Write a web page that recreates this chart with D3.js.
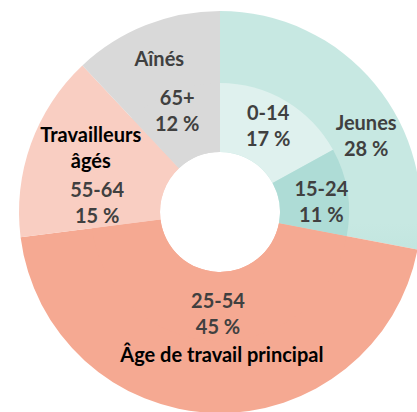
<!DOCTYPE html>
<meta charset="utf-8">
<style>
    body {
        margin: 0;
        background: #fff;
    }
    svg {
        display: block;
        font-family: Lato, "Open Sans", sans-serif;
        font-weight: 700;
    }
</style>
<script src="https://d3js.org/d3.v7.min.js"></script>
<div id="chart"></div>
<script>

    // inner ring: age groups
    var ageGroups = ["0-14", "15-24", "25-54", "55-64", "65+"];
    var agePct = [17, 11, 45, 15, 12];
    // which life stage each age group belongs to
    var ageStage = [0, 0, 1, 2, 3];

    // outer ring: life stages
    var stages = ["Jeunes", "Âge de travail principal", "Travailleurs âgés", "Aînés"];
    var stagePct = [28, 45, 15, 12];

    var width = 417, height = 412;
    var cx = 220, cy = 212;
    var rHole = 60, rInner = 129, rOuter = 201;

    var ageColor = ["#dff1ee", "#aedcd6", "#f5a992", "#f9cec2", "#d9d9d9"];
    var stageColor = ["url(#jeunesGrad)", "#f5a992", "#f9cec2", "#d9d9d9"];
    var stageText = ["#404040", "#000", "#000", "#404040"];

    // nudges from the arc centroid to where the labels sit
    var ageNudge = {"0-14": [0, -11], "15-24": [8, -1], "25-54": [1, 2], "55-64": [-34, 17], "65+": [-8, -19]};
    var stageNudge = {"Jeunes": [19, 23], "Âge de travail principal": [7, -15], "Travailleurs âgés": [26, -14], "Aînés": [0, 7]};
    var lineH = 26;

    var svg = d3.select("#chart")
        .append("svg")
        .attr("width", width)
        .attr("height", height);

    var grad = svg.append("defs").append("linearGradient")
        .attr("id", "jeunesGrad")
        .attr("gradientUnits", "userSpaceOnUse")
        .attr("x1", 0).attr("y1", cy - rOuter)
        .attr("x2", 0).attr("y2", cy + 40);
    grad.append("stop").attr("offset", "0%").attr("stop-color", "#c7e8e2");
    grad.append("stop").attr("offset", "100%").attr("stop-color", "#9cd3cc");

    var g = svg.append("g")
        .attr("transform", "translate(" + cx + "," + cy + ")");

    var pie = d3.pie().sort(null).value(function(d) { return d; });

    var stageArcs = pie(stagePct);
    var ageArcs = pie(agePct);

    var outerArc = d3.arc().innerRadius(rHole).outerRadius(rOuter);
    var outerMid = d3.arc().innerRadius(rInner).outerRadius(rOuter);
    var innerArc = d3.arc().innerRadius(rHole).outerRadius(rInner);

    g.selectAll(".stage")
        .data(stageArcs)
        .enter()
        .append("path")
        .attr("class", "stage")
        .attr("d", outerArc)
        .style("fill", function(d, i) { return stageColor[i]; });

    g.selectAll(".age")
        .data(ageArcs)
        .enter()
        .append("path")
        .attr("class", "age")
        .attr("d", innerArc)
        .style("fill", function(d, i) { return ageColor[i]; });

    function drawLabel(pos, lines, color) {
        var t = g.append("text")
            .attr("text-anchor", "middle")
            .style("font-size", "20px")
            .style("fill", color);
        lines.forEach(function(s, k) {
            t.append("tspan")
                .attr("x", pos[0])
                .attr("y", pos[1] + k * lineH)
                .text(s);
        });
    }

    // outer labels (percent only when a stage has several age groups)
    stageArcs.forEach(function(d, i) {
        var name = stages[i];
        var c = outerMid.centroid(d);
        var n = stageNudge[name];
        var lines = name === "Travailleurs âgés" ? ["Travailleurs", "âgés"] : [name];
        var count = ageStage.filter(function(s) { return s === i; }).length;
        if (count > 1) lines.push(stagePct[i] + " %");
        drawLabel([c[0] + n[0], c[1] + n[1]], lines, stageText[i]);
    });

    ageArcs.forEach(function(d, i) {
        var c = innerArc.centroid(d);
        var n = ageNudge[ageGroups[i]];
        drawLabel([c[0] + n[0], c[1] + n[1]], [ageGroups[i], agePct[i] + " %"], "#404040");
    });

</script>
